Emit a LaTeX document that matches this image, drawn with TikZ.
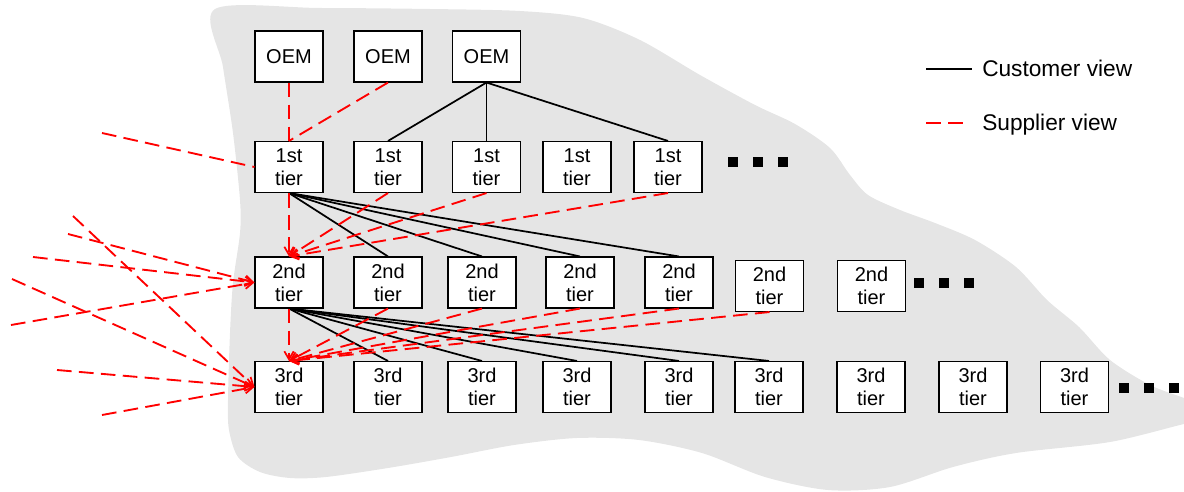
\documentclass[tikz,border=0pt]{standalone}
\usepackage{fontspec}
\setmainfont{Liberation Sans}
\usetikzlibrary{arrows.meta}
\definecolor{bgshape}{RGB}{229,229,229}
\begin{document}
\begin{tikzpicture}[x=0.75pt,y=-0.75pt,
  tierbox/.style={draw=black, line width=0.8pt, fill=white, minimum width=51pt, minimum height=38.25pt, inner sep=0pt, align=center, font=\fontsize{15}{17.25}\selectfont},
  dotsq/.style={fill=black, minimum size=7.5pt, inner sep=0pt},
  cust/.style={line width=1.3pt, black},
  supp/.style={line width=1.4pt, red, dash pattern=on 11pt off 5.5pt},
  suppar/.style={supp, -{Straight Barb[length=6pt,width=7pt,line width=1.3pt]}},
  legtext/.style={font=\fontsize{17}{20}\selectfont, anchor=base west, inner sep=0pt}]

\useasboundingbox (0,0) rectangle (1184,492);

% background region
\fill[bgshape] plot[smooth cycle] coordinates {
 (215,9) (320,8) (430,9) (520,11) (583,18) (640,40) (700,75) (755,105) (795,124)
 (830,148) (850,175) (868,195) (900,210) (935,223) (975,240) (1016,267) (1047,300)
 (1079,327) (1110,360) (1150,385) (1184,398) (1200,405) (1200,422) (1184,424)
 (1110,442) (1016,453) (953,467) (890,487) (828,490) (765,477) (702,453) (639,440)
 (577,438) (514,445) (451,457) (388,468) (326,477) (290,478) (260,472) (238,457)
 (229,430) (228,400) (230,333) (233,283) (240,233) (240,200) (233,133) (223,67)};

% OEM row
\node[tierbox] (o1) at (289,56.5) {OEM};
\node[tierbox] (o2) at (388,56.5) {OEM};
\node[tierbox] (o3) at (486.5,56.5) {OEM};

% 1st tier
\node[tierbox] (t1a) at (289,167) {1st\\tier};
\node[tierbox] (t1b) at (388,167) {1st\\tier};
\node[tierbox] (t1c) at (486.5,167) {1st\\tier};
\node[tierbox] (t1d) at (577,167) {1st\\tier};
\node[tierbox] (t1e) at (668,167) {1st\\tier};
\node[dotsq] (d1a) at (733,162) {};
\node[dotsq] (d1b) at (758,162) {};
\node[dotsq] (d1c) at (783,162) {};

% 2nd tier
\node[tierbox] (s2a) at (289,282.5) {2nd\\tier};
\node[tierbox] (s2b) at (388,282.5) {2nd\\tier};
\node[tierbox] (s2c) at (482,282.5) {2nd\\tier};
\node[tierbox] (s2d) at (580,282.5) {2nd\\tier};
\node[tierbox] (s2e) at (679,282.5) {2nd\\tier};
\node[tierbox] (s2f) at (769.5,286) {2nd\\tier};
\node[tierbox] (s2g) at (871.5,286) {2nd\\tier};
\node[dotsq] (d2a) at (919,283) {};
\node[dotsq] (d2b) at (944,283) {};
\node[dotsq] (d2c) at (969,283) {};

% 3rd tier
\node[tierbox] (r3a) at (289,387) {3rd\\tier};
\node[tierbox] (r3b) at (388,387) {3rd\\tier};
\node[tierbox] (r3c) at (482,387) {3rd\\tier};
\node[tierbox] (r3d) at (577,387) {3rd\\tier};
\node[tierbox] (r3e) at (679,387) {3rd\\tier};
\node[tierbox] (r3f) at (769,387) {3rd\\tier};
\node[tierbox] (r3g) at (871,387) {3rd\\tier};
\node[tierbox] (r3h) at (973,387) {3rd\\tier};
\node[tierbox] (r3i) at (1074.5,387) {3rd\\tier};
\node[dotsq] (d3a) at (1124,388) {};
\node[dotsq] (d3b) at (1149,388) {};
\node[dotsq] (d3c) at (1174,388) {};

% free ends on the left
\coordinate (l1) at (102,133);
\coordinate (l2a) at (68,234);
\coordinate (l2b) at (33,257);
\coordinate (l2c) at (11,325);
\coordinate (l3a) at (73,216);
\coordinate (l3b) at (12,279);
\coordinate (l3c) at (57,370);
\coordinate (l3d) at (102,415);

% customer view
\draw[cust] (o3.south) -- (t1b.north);
\draw[cust] (o3.south) -- (t1c.north);
\draw[cust] (o3.south) -- (t1e.north);
\draw[cust] (t1a.south) -- (s2b.north);
\draw[cust] (t1a.south) -- (s2c.north);
\draw[cust] (t1a.south) -- (s2d.north);
\draw[cust] (t1a.south) -- (s2e.north);
\draw[cust] (s2a.south) -- (r3b.north);
\draw[cust] (s2a.south) -- (r3c.north);
\draw[cust] (s2a.south) -- (r3d.north);
\draw[cust] (s2a.south) -- (r3e.north);
\draw[cust] (s2a.south) -- (r3f.north);

% supplier view
\draw[supp] (o1.south) -- (t1a.north);
\draw[supp] (o2.south) -- (t1a.north);
\draw[supp] (l1) -- (t1a.west);
\draw[suppar] (t1a.south) -- (s2a.north);
\draw[suppar] (t1b.south) -- (s2a.north);
\draw[suppar] (t1c.south) -- (s2a.north);
\draw[suppar] (t1e.south) -- (s2a.north);
\draw[suppar] (l2a) -- (s2a.west);
\draw[suppar] (l2b) -- (s2a.west);
\draw[suppar] (l2c) -- (s2a.west);
\draw[suppar] (s2a.south) -- (r3a.north);
\draw[suppar] (s2b.south) -- (r3a.north);
\draw[suppar] (s2c.south) -- (r3a.north);
\draw[suppar] (s2d.south) -- (r3a.north);
\draw[suppar] (s2e.south) -- (r3a.north);
\draw[suppar] (s2f.south) -- (r3a.north);
\draw[suppar] (l3a) -- (r3a.west);
\draw[suppar] (l3b) -- (r3a.west);
\draw[suppar] (l3c) -- (r3a.west);
\draw[suppar] (l3d) -- (r3a.west);

% legend
\coordinate (lg1a) at (926,69);
\coordinate (lg1b) at (972,69);
\coordinate (lg2a) at (926,123);
\coordinate (lg2b) at (967,123);
\draw[cust] (lg1a) -- (lg1b);
\draw[supp] (lg2a) -- (lg2b);
\node[legtext] (lgt1) at (982,76) {Customer view};
\node[legtext] (lgt2) at (982,130) {Supplier view};
\end{tikzpicture}
\end{document}
